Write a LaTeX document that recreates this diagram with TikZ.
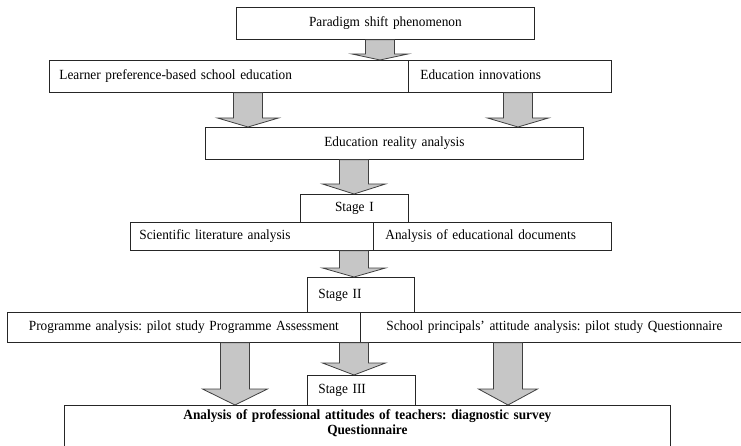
\documentclass[tikz,border=0pt]{standalone}
\usepackage{fontspec}
\setmainfont{Liberation Serif}[FakeStretch=0.95]
\usetikzlibrary{calc}
\frenchspacing

\newcommand{\blkfont}{\fontsize{14}{15}\selectfont}
% fat grey block arrow: x, source node, target node, head length, head half width
\newcommand{\fatarrow}[5]{%
  \draw[fatarrow] let \p1=(#2.south), \p2=(#3.north), \p3=(#1,0) in
    (\x3-14.5pt,\y1) -- (\x3-14.5pt,\y2+#4*1pt) -- (\x3-#5*1pt,\y2+#4*1pt) -- (\x3,\y2)
    -- (\x3+#5*1pt,\y2+#4*1pt) -- (\x3+14.5pt,\y2+#4*1pt) -- (\x3+14.5pt,\y1) -- cycle;}

\tikzset{
  blk/.style={draw=black!85, line width=0.8pt, anchor=north west, inner xsep=10pt,
    inner ysep=0pt, text height=9.5pt, text depth=3pt, font=\blkfont},
  fatarrow/.style={draw=black!75, fill=gray!45, line width=0.8pt},
}

\begin{document}
\begin{tikzpicture}[x=1pt,y=-1pt]
  \useasboundingbox (0,0) rectangle (741,446);
  \clip (0,0) rectangle (741,446);

  \node[blk, text width=278pt, minimum height=32pt, align=center] (ps) at (236,7) {Paradigm shift phenomenon};
  \node[blk, text width=339pt, minimum height=32pt, align=left] (lp) at (49,60) {Learner preference-based school education};
  \node[blk, inner xsep=12pt, text width=179pt, minimum height=32pt, align=left] (ei) at (408,60) {Education innovations};
  \node[blk, text width=358pt, minimum height=32pt, align=center] (era) at (205,127) {Education reality analysis};
  \node[blk, text width=88pt, minimum height=28pt, align=center] (s1) at (300,194) {Stage I};
  \node[blk, inner xsep=9pt, text width=225pt, minimum height=28pt, align=left] (sla) at (130,222) {Scientific literature analysis};
  \node[blk, inner xsep=12pt, text width=214pt, minimum height=28pt, align=left] (aed) at (373,222) {Analysis of educational documents};
  \node[blk, inner xsep=11pt, text width=85pt, minimum height=35pt, align=left] (s2) at (307,277) {Stage II};
  \node[blk, text width=333pt, minimum height=30pt, align=center] (pa) at (7,312) {Programme analysis: pilot study Programme Assessment};
  \node[blk, text width=368pt, minimum height=30pt, align=center] (spa) at (360,312) {School principals’ attitude analysis: pilot study Questionnaire};
  \node[blk, inner xsep=11pt, text width=86pt, minimum height=30pt, align=left] (s3) at (307,375) {Stage III};
  \node[blk, text width=586pt, inner ysep=5pt, text depth=30pt, align=center, font=\blkfont\bfseries] (pat) at (64,405)
    {Analysis of professional attitudes of teachers: diagnostic survey\\Questionnaire};

  \foreach \ax/\src/\dst/\hl/\hw in {380/ps/lp/6/28, 248/lp/era/9/30.5, 518/ei/era/9/30.5,
      354/era/s1/10/31.5, 354/sla/s2/9/31.5, 354/pa/s3/12/31.5,
      235/pa/pat/16/32.5, 508/spa/pat/16/29.5}
    \fatarrow{\ax}{\src}{\dst}{\hl}{\hw};
\end{tikzpicture}
\end{document}
